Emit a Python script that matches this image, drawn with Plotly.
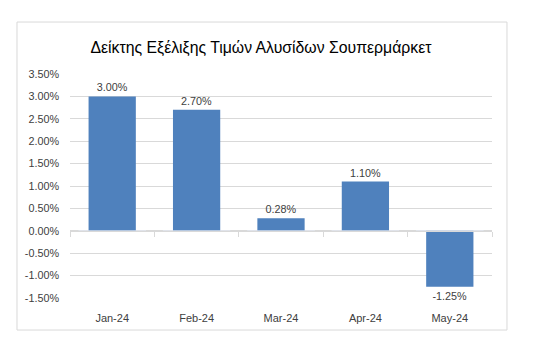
import plotly.graph_objects as go

categories = ["Jan-24", "Feb-24", "Mar-24", "Apr-24", "May-24"]
values = [3.00, 2.70, 0.28, 1.10, -1.25]
labels = ["3.00%", "2.70%", "0.28%", "1.10%", "-1.25%"]
y_ticks = [3.5, 3.0, 2.5, 2.0, 1.5, 1.0, 0.5, 0.0, -0.5, -1.0, -1.5]
y_tick_labels = ["%.2f%%" % v for v in y_ticks]
title = "Δείκτης Εξέλιξης Τιμών Αλυσίδων Σουπερμάρκετ"

FONT = "Liberation Sans, Arial, sans-serif"
TXT = "#404040"

fig = go.Figure()
fig.add_trace(go.Bar(
    x=categories, y=values, text=labels, textposition="outside",
    textfont=dict(family=FONT, size=10.8, color=TXT),
    marker=dict(color="#4f81bd", line=dict(width=0)),
    width=0.56, cliponaxis=False, hoverinfo="skip",
))

fig.update_layout(
    width=548, height=359,
    margin=dict(l=62, r=64, t=66, b=69),
    paper_bgcolor="white", plot_bgcolor="white",
    showlegend=False,
    font=dict(family=FONT, color=TXT),
    title=dict(text=title, x=0.4526, xref="paper", xanchor="center",
               y=1 - 39 / 359, yanchor="middle",
               font=dict(family=FONT, size=15.8, color="#000000")),
    xaxis=dict(type="category", showgrid=False, showline=False, ticks="",
               tickfont=dict(family=FONT, size=11, color=TXT),
               ticklabelstandoff=12),
    xaxis2=dict(type="category", overlaying="x", anchor="free",
                position=0.3, side="bottom", matches="x",
                showline=True, linecolor="#d9d9d9", linewidth=1,
                ticks="outside", tickson="boundaries", ticklen=5,
                tickcolor="#d9d9d9", showticklabels=False, showgrid=False),
    yaxis=dict(range=[-1.5, 3.5], tickvals=y_ticks, ticktext=y_tick_labels,
               showgrid=True, gridcolor="#d9d9d9", gridwidth=1,
               zeroline=False, showline=False, ticks="",
               tickfont=dict(family=FONT, size=10.8, color=TXT),
               ticklabelstandoff=10),
)

# invisible helper trace to activate the x2 axis at zero
fig.add_trace(go.Bar(x=categories, y=[0] * len(categories), xaxis="x2",
                     marker=dict(color="rgba(0,0,0,0)"), hoverinfo="skip",
                     showlegend=False))

# outer chart border
fig.add_shape(type="rect", xref="paper", yref="paper",
              x0=-0.1256, x1=1.0355, y0=-0.143, y1=1.232,
              line=dict(color="#d9d9d9", width=1), fillcolor="rgba(0,0,0,0)",
              layer="below")

fig.write_html("out.html")
